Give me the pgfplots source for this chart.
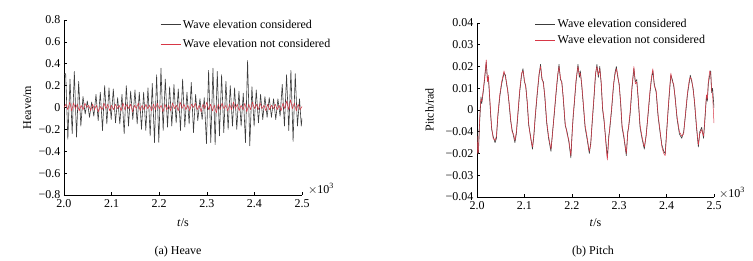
\documentclass[border=0pt]{standalone}
\usepackage{fontspec}
\setmainfont{Liberation Serif}
\usepackage{pgfplots}
\pgfplotsset{compat=1.18}
\definecolor{cblack}{RGB}{60,60,60}
\definecolor{cred}{RGB}{215,55,70}
\newcommand{\myfont}{\fontsize{12}{14.5}\selectfont}
\pgfplotsset{
  myax/.style={
    scale only axis,
    font=\myfont,
    tick label style={font=\myfont},
    label style={font=\myfont},
    axis x line*=bottom, axis y line*=left,
    axis line style={black, line width=0.5pt},
    tick align=inside, major tick length=3pt,
    tick style={black, line width=0.5pt},
    scaled x ticks=false, scaled y ticks=false,
    xmin=2000, xmax=2500,
    xtick={2000,2100,2200,2300,2400,2500},
    xticklabels={2.0,2.1,2.2,2.3,2.4,2.5},
    xticklabel style={yshift=-1pt},
    xlabel={\textit{t}/s},
    legend cell align=left,
    legend image code/.code={\draw[#1] (0pt,0pt) -- (20pt,0pt);},
    every axis plot/.append style={line join=round},
  }
}
\begin{document}
\begin{tikzpicture}[font=\myfont]
\path[use as bounding box] (0pt,0pt) rectangle (753pt,260pt);
% ---------------- (a) Heave ----------------
\begin{axis}[myax,
  at={(64pt,65pt)}, anchor=south west,
  width=238pt, height=175pt,
  ymin=-0.8, ymax=0.8,
  ytick={-0.8,-0.6,-0.4,-0.2,0,0.2,0.4,0.6,0.8},
  yticklabels={−0.8,−0.6,−0.4,−0.2,0,0.2,0.4,0.6,0.8},
  ylabel={Heave/m},
  xlabel style={at={(axis description cs:0.5,0)}, anchor=center, yshift=-28pt},
  ylabel style={at={(axis description cs:-0.155,0.5)}, anchor=center},
  legend style={at={(axis description cs:0.40,1.02)}, anchor=north west, draw=none, fill=none,
    font=\myfont, row sep=6pt, inner sep=1pt, nodes={inner sep=2pt}},
]
\addplot[cblack, line width=0.6pt] coordinates {
(2000,0.30)(2003.5,0.31)(2008.1,-0.29)(2012.6,0.26)(2017.2,-0.24)(2021.7,0.33)(2026.3,-0.27)
(2030.8,0.24)(2035.4,-0.17)(2039.9,0.10)(2044.5,-0.06)(2049.0,0.06)(2053.6,-0.09)(2058.1,0.05)
(2062.7,-0.08)(2067.2,0.12)(2071.8,-0.12)(2076.3,0.14)(2080.9,-0.21)(2085.4,0.20)(2090.0,-0.15)
(2094.5,0.18)(2099.1,-0.11)(2103.6,0.17)(2108.2,-0.14)(2112.7,0.09)(2117.3,-0.15)(2121.8,0.12)
(2126.4,-0.24)(2130.9,0.20)(2135.5,-0.17)(2140.0,0.15)(2144.6,-0.11)(2149.1,0.16)(2153.7,-0.15)
(2158.2,0.14)(2162.8,-0.20)(2167.3,0.14)(2171.9,-0.21)(2176.4,0.18)(2181.0,-0.26)(2185.5,0.22)
(2190.1,-0.32)(2194.6,0.30)(2199.2,-0.32)(2203.7,0.36)(2208.3,-0.21)(2212.8,0.26)(2217.4,-0.18)
(2221.9,0.19)(2226.5,-0.17)(2231.0,0.21)(2235.6,-0.14)(2240.1,0.17)(2244.7,-0.21)(2249.2,0.26)
(2253.8,-0.18)(2258.3,0.14)(2262.9,-0.15)(2267.4,0.23)(2272.0,-0.23)(2276.5,0.12)(2281.1,-0.12)
(2285.6,0.08)(2290.2,-0.11)(2294.7,0.09)(2299.3,-0.33)(2303.8,0.34)(2308.4,-0.32)(2312.9,0.36)
(2317.5,-0.34)(2322.0,0.33)(2326.6,-0.26)(2331.1,0.30)(2335.7,-0.23)(2340.2,0.24)(2344.8,-0.20)
(2349.3,0.20)(2353.9,-0.17)(2358.4,0.18)(2363.0,-0.20)(2367.5,0.15)(2372.1,-0.17)(2376.6,0.13)
(2381.2,-0.32)(2385.7,0.43)(2390.3,-0.35)(2394.8,0.19)(2399.4,-0.17)(2403.9,0.16)(2408.5,-0.14)
(2413.0,0.12)(2417.6,-0.11)(2422.1,0.10)(2426.7,-0.09)(2431.2,0.09)(2435.8,-0.09)(2440.3,0.08)
(2444.9,-0.11)(2449.4,0.08)(2454.0,-0.08)(2458.5,0.21)(2463.1,-0.17)(2467.6,0.30)(2472.2,-0.21)
(2476.7,0.34)(2481.3,-0.31)(2485.8,0.31)(2490.4,-0.17)(2494.9,0.08)(2498.5,-0.17)(2500,-0.10)
};
\addlegendentry{Wave elevation considered}
\addplot[cred, line width=0.5pt] coordinates {
(2000,0.00)(2004,0.03)(2008,-0.02)(2012,0.05)(2016,-0.03)(2020,0.04)(2024,-0.01)(2028,0.03)
(2032,-0.03)(2036,0.02)(2040,-0.02)(2044,0.04)(2048,0.00)(2052,0.02)(2056,-0.03)(2060,0.03)
(2064,-0.02)(2068,0.02)(2072,-0.04)(2076,0.01)(2080,-0.02)(2084,0.04)(2088,-0.01)(2092,0.03)
(2096,-0.03)(2100,0.02)(2104,-0.02)(2108,0.03)(2112,-0.01)(2116,0.02)(2120,-0.03)(2124,0.04)
(2128,-0.02)(2132,0.03)(2136,-0.01)(2140,0.03)(2144,-0.04)(2148,0.02)(2152,-0.01)(2156,0.04)
(2160,-0.03)(2164,0.02)(2168,-0.02)(2172,0.03)(2176,-0.01)(2180,0.02)(2184,-0.03)(2188,0.03)
(2192,-0.02)(2196,0.04)(2200,-0.01)(2204,0.02)(2208,-0.04)(2212,0.03)(2216,-0.02)(2220,0.02)
(2224,-0.03)(2228,0.04)(2232,-0.01)(2236,0.02)(2240,-0.03)(2244,0.05)(2248,-0.01)(2252,0.03)
(2256,-0.02)(2260,0.02)(2264,-0.03)(2268,0.03)(2272,0.00)(2276,0.04)(2280,-0.02)(2284,0.02)
(2288,-0.04)(2292,0.03)(2296,-0.01)(2300,0.05)(2304,-0.02)(2308,0.03)(2312,-0.03)(2316,0.02)
(2320,-0.05)(2324,0.03)(2328,-0.02)(2332,0.04)(2336,-0.01)(2340,0.02)(2344,-0.03)(2348,0.03)
(2352,-0.02)(2356,0.05)(2360,-0.01)(2364,0.03)(2368,-0.03)(2372,0.02)(2376,-0.02)(2380,0.04)
(2384,-0.04)(2388,0.03)(2392,-0.02)(2396,0.05)(2400,-0.01)(2404,0.03)(2408,-0.02)(2412,0.04)
(2416,-0.01)(2420,0.02)(2424,-0.03)(2428,0.03)(2432,-0.02)(2436,0.02)(2440,-0.01)(2444,0.03)
(2448,-0.02)(2452,0.02)(2456,-0.03)(2460,0.04)(2464,-0.01)(2468,0.06)(2472,-0.02)(2476,0.07)
(2480,-0.01)(2484,0.04)(2488,-0.03)(2492,0.03)(2496,-0.02)(2500,0.01)
};
\addlegendentry{Wave elevation not considered}
\end{axis}
\node at (321pt,71pt) {$\times$10\textsuperscript{3}};
\node at (178pt,8pt) {(a) Heave};
% ---------------- (b) Pitch ----------------
\begin{axis}[myax,
  at={(477pt,63pt)}, anchor=south west,
  width=237pt, height=174pt,
  ymin=-0.04, ymax=0.04,
  ytick={-0.04,-0.03,-0.02,-0.01,0,0.01,0.02,0.03,0.04},
  yticklabels={−0.04,−0.03,−0.02,−0.04,0,0.01,0.02,0.03,0.04},
  ylabel={Pitch/rad},
  xlabel style={at={(axis description cs:0.5,0)}, anchor=center, yshift=-26pt},
  ylabel style={at={(axis description cs:-0.2,0.5)}, anchor=center},
  legend style={at={(axis description cs:0.24,1.04)}, anchor=north west, draw=none, fill=none,
    font=\myfont, row sep=2pt, inner sep=1pt, nodes={inner sep=2pt}},
]
\addplot[cblack, line width=0.6pt] coordinates {
(2000,-0.010)(2001.5,-0.019)(2003,-0.020)(2005,-0.008)(2007,0.000)(2008.5,0.006)(2010,0.003)
(2013,0.008)(2016,0.014)(2019.5,0.022)(2022,0.014)(2024,0.015)(2026,0.008)(2029,-0.003)
(2031,-0.009)(2034,-0.012)(2038,-0.015)(2041,-0.013)(2044,-0.003)(2048,0.006)(2052,0.012)
(2057,0.017)(2060,0.016)(2063,0.011)(2065,0.009)(2068,0.002)(2071,-0.005)(2074,-0.009)
(2077,-0.012)(2080,-0.015)(2083,-0.011)(2086,-0.003)(2090,0.008)(2094,0.016)(2097,0.019)
(2100,0.013)(2103,0.011)(2106,0.003)(2109,-0.007)(2113,-0.012)(2117,-0.018)(2120,-0.012)
(2123,-0.003)(2127,0.007)(2131,0.016)(2134,0.021)(2137,0.014)(2140,0.013)(2143,0.006)
(2147,-0.006)(2151,-0.013)(2156,-0.019)(2159,-0.011)(2163,-0.002)(2167,0.008)(2170,0.015)
(2173,0.021)(2176,0.014)(2179,0.013)(2182,0.005)(2186,-0.007)(2190,-0.010)(2194,-0.015)
(2198,-0.022)(2201,-0.009)(2203,-0.003)(2205,0.002)(2209,0.013)(2213,0.021)(2216,0.015)
(2218,0.018)(2221,0.011)(2224,0.003)(2228,-0.008)(2232,-0.013)(2237,-0.020)(2240,-0.015)
(2243,-0.006)(2247,0.006)(2250,0.016)(2253,0.021)(2256,0.015)(2259,0.020)(2262,0.012)
(2265,0.000)(2268,-0.005)(2271,-0.012)(2275,-0.022)(2278,-0.012)(2280,-0.009)(2284,0.000)
(2288,0.011)(2291,0.017)(2294,0.020)(2297,0.015)(2300,0.012)(2303,0.003)(2306,-0.008)
(2310,-0.013)(2315,-0.021)(2318,-0.010)(2320,-0.008)(2323,-0.002)(2327,0.010)(2331,0.019)
(2334,0.013)(2337,0.014)(2340,0.005)(2344,-0.008)(2348,-0.013)(2353,-0.018)(2357,-0.011)
(2361,-0.002)(2365,0.008)(2368,0.014)(2371,0.018)(2374,0.012)(2378,0.008)(2382,-0.003)
(2386,-0.010)(2390,-0.016)(2394,-0.019)(2397,-0.020)(2400,-0.010)(2403,-0.001)(2406,0.008)
(2409,0.016)(2412,0.014)(2415,0.011)(2418,0.006)(2422,-0.004)(2427,-0.011)(2432,-0.013)
(2436,-0.010)(2440,-0.002)(2444,0.007)(2448,0.013)(2450,0.016)(2453,0.013)(2456,0.010)
(2459,0.003)(2463,-0.008)(2467,-0.017)(2470,-0.010)(2474,-0.008)(2478,-0.013)(2481,-0.004)
(2484,0.006)(2486,0.004)(2488,0.012)(2491,0.016)(2493,0.018)(2495,0.008)(2497,0.010)
(2499,0.004)(2500,0.001)
};
\addlegendentry{Wave elevation considered}
\addplot[cred, line width=0.5pt] coordinates {
(2000,-0.012)(2001.5,-0.020)(2003,-0.019)(2005,-0.007)(2007,0.002)(2008.5,0.005)(2010,0.004)
(2013,0.009)(2016,0.015)(2019.5,0.023)(2022,0.013)(2024,0.016)(2026,0.009)(2029,-0.002)
(2031,-0.008)(2034,-0.013)(2038,-0.014)(2041,-0.012)(2044,-0.002)(2048,0.007)(2052,0.013)
(2057,0.018)(2060,0.015)(2063,0.012)(2065,0.008)(2068,0.003)(2071,-0.004)(2074,-0.010)
(2077,-0.011)(2080,-0.014)(2083,-0.010)(2086,-0.002)(2090,0.009)(2094,0.017)(2097,0.018)
(2100,0.014)(2103,0.010)(2106,0.004)(2109,-0.006)(2113,-0.013)(2117,-0.017)(2120,-0.011)
(2123,-0.002)(2127,0.008)(2131,0.017)(2134,0.020)(2137,0.015)(2140,0.012)(2143,0.007)
(2147,-0.005)(2151,-0.012)(2156,-0.018)(2159,-0.012)(2163,-0.001)(2167,0.009)(2170,0.016)
(2173,0.020)(2176,0.015)(2179,0.012)(2182,0.006)(2186,-0.006)(2190,-0.011)(2194,-0.014)
(2198,-0.021)(2201,-0.010)(2203,-0.002)(2205,0.003)(2209,0.014)(2213,0.020)(2216,0.016)
(2218,0.017)(2221,0.012)(2224,0.004)(2228,-0.007)(2232,-0.012)(2237,-0.019)(2240,-0.016)
(2243,-0.005)(2247,0.007)(2250,0.017)(2253,0.020)(2256,0.016)(2259,0.019)(2262,0.013)
(2265,0.001)(2268,-0.004)(2271,-0.013)(2275,-0.023)(2278,-0.013)(2280,-0.008)(2284,0.001)
(2288,0.012)(2291,0.016)(2294,0.019)(2297,0.016)(2300,0.011)(2303,0.004)(2306,-0.007)
(2310,-0.012)(2315,-0.020)(2318,-0.011)(2320,-0.007)(2323,-0.001)(2327,0.011)(2331,0.020)
(2334,0.012)(2337,0.013)(2340,0.006)(2344,-0.007)(2348,-0.012)(2353,-0.017)(2357,-0.012)
(2361,-0.001)(2365,0.009)(2368,0.015)(2371,0.019)(2374,0.011)(2378,0.009)(2382,-0.002)
(2386,-0.009)(2390,-0.017)(2394,-0.020)(2397,-0.021)(2400,-0.011)(2403,0.000)(2406,0.009)
(2409,0.017)(2412,0.013)(2415,0.012)(2418,0.005)(2422,-0.003)(2427,-0.010)(2432,-0.012)
(2436,-0.011)(2440,-0.001)(2444,0.008)(2448,0.014)(2450,0.015)(2453,0.014)(2456,0.009)
(2459,0.004)(2463,-0.007)(2467,-0.016)(2470,-0.011)(2474,-0.009)(2478,-0.012)(2481,-0.003)
(2484,0.007)(2486,0.005)(2488,0.013)(2491,0.018)(2493,0.017)(2495,0.009)(2497,0.007)
(2499,-0.002)(2500,-0.006)
};
\addlegendentry{Wave elevation not considered}
\end{axis}
\node at (732pt,67pt) {$\times$10\textsuperscript{3}};
\node at (593pt,8pt) {(b) Pitch};
\end{tikzpicture}
\end{document}
